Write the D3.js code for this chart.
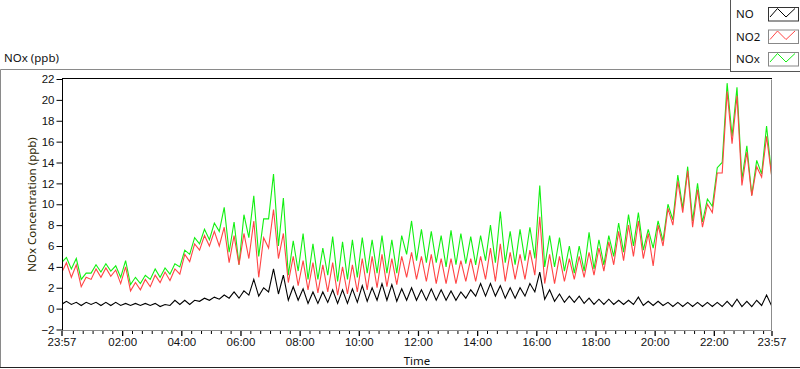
<!DOCTYPE html>
<html>
<head>
<meta charset="utf-8">
<script src="https://cdn.jsdelivr.net/npm/d3@7"></script>
<style>
  body { margin: 0; background: #fff; }
  svg { display: block; font-family: "Segoe UI", "Noto Sans", sans-serif; }
</style>
</head>
<body>
<svg id="chart" width="800" height="369"></svg>
<script>
// readings in 20-minute slots from 23:57, low value then high value in each slot
const startTime = "2014-03-10 23:57";
const endTime = "2014-03-11 23:57";
const slotMinutes = 20;

const noxLow = [4.4,3.8,2.8,3.4,3.5,3.6,3.0,2.3,2.4,2.8,3.0,3.3,4.0,5.2,6.2,6.6,7.4,5.4,4.2,6.8,
  5.0,8.6,6.0,3.2,3.6,2.8,2.8,3.2,2.6,2.8,3.0,3.4,3.4,3.4,3.4,5.2,4.6,4.4,4.4,4.0,
  4.2,4.3,4.2,4.6,4.4,4.4,4.2,4.6,4.8,4.0,4.0,3.6,3.4,3.6,3.8,4.2,5.0,5.4,6.0,5.6,
  5.8,6.5,8.5,9.6,8.4,8.3,9.8,14.0,16.5,12.4,10.9,12.9,12.9];
const noxHigh = [4.9,4.8,3.4,4.2,4.3,4.1,4.6,3.0,3.2,3.8,3.9,4.3,5.6,6.8,7.6,8.2,9.7,8.3,9.0,10.8,
  8.6,12.9,10.6,6.5,7.2,6.2,5.8,6.9,6.4,6.6,6.8,6.6,7.0,6.6,7.0,8.4,7.6,7.4,7.0,7.5,
  7.2,6.9,7.0,8.0,9.3,7.4,7.6,7.8,11.8,7.0,6.8,6.0,6.0,7.3,6.6,7.0,8.2,9.0,9.2,7.6,
  8.4,10.0,12.8,13.6,12.0,10.5,13.5,21.6,21.2,15.6,14.2,17.5];

const no2Low = [3.4,3.0,2.1,2.8,3.0,3.1,2.4,1.7,1.8,2.1,2.5,2.7,3.3,4.5,5.6,6.0,6.0,4.4,4.2,4.8,
  3.0,5.8,4.8,2.5,2.2,1.8,1.5,1.6,1.3,1.4,1.6,1.8,2.0,2.1,2.3,3.0,2.8,2.6,2.4,2.4,
  2.4,2.6,2.6,2.8,2.6,2.6,2.8,2.8,3.2,2.4,2.4,2.6,2.8,3.0,3.2,3.6,4.2,4.6,5.0,4.8,
  4.1,6.0,8.0,9.2,7.8,7.8,9.2,13.0,15.8,11.8,10.8,12.6,12.8];
const no2High = [4.4,4.2,3.0,3.8,3.9,3.7,4.0,2.5,2.8,3.2,3.5,3.8,5.2,6.2,7.0,7.4,7.8,7.0,7.2,8.4,
  6.8,9.5,7.2,5.0,4.6,4.4,4.2,4.4,4.0,4.2,4.8,5.0,5.2,4.8,5.0,5.4,5.0,5.2,4.8,4.8,
  4.6,4.8,5.0,5.8,6.2,5.4,5.2,5.6,8.8,5.2,5.0,4.8,5.0,5.4,5.8,6.4,7.4,8.0,8.4,7.2,
  8.0,9.6,12.2,13.2,11.4,10.0,13.0,20.8,20.4,15.0,13.6,16.5];

const noLow = [0.4,0.4,0.3,0.4,0.3,0.3,0.3,0.3,0.3,0.3,0.2,0.3,0.4,0.4,0.7,0.8,0.9,1.0,1.0,1.3,
  1.2,1.6,1.4,0.8,0.8,0.5,0.5,0.6,0.5,0.5,0.6,0.7,0.8,0.8,0.7,0.8,0.8,0.8,0.8,0.8,
  0.8,1.0,1.2,1.2,1.2,1.0,1.0,1.2,1.6,0.9,0.7,0.6,0.6,0.5,0.4,0.4,0.4,0.4,0.4,0.3,
  0.3,0.3,0.2,0.2,0.2,0.2,0.2,0.2,0.2,0.2,0.2,0.3,0.3];
const noHigh = [0.7,0.6,0.6,0.6,0.6,0.6,0.5,0.5,0.5,0.5,0.4,0.8,0.8,0.8,1.0,1.1,1.3,1.6,1.7,2.8,
  2.0,3.8,3.2,2.1,1.9,1.6,1.6,1.8,1.8,1.9,2.2,2.0,2.4,2.3,1.9,2.0,1.8,1.9,1.8,1.7,
  1.6,1.8,2.4,2.4,2.2,2.0,2.0,2.4,3.5,1.8,1.4,1.2,1.2,1.0,0.9,0.9,0.8,0.8,1.1,0.7,
  0.7,0.6,0.6,0.6,0.6,0.6,0.6,0.7,0.9,0.7,0.8,1.3];

const seriesNames = ["NO", "NO2", "NOx"];
const seriesColors = ["#000000", "#ff4545", "#12f012"];
const yTickValues = [-2, 0, 2, 4, 6, 8, 10, 12, 14, 16, 18, 20, 22];
const majorTickLabels = ["23:57", "02:00", "04:00", "06:00", "08:00", "10:00", "12:00",
  "14:00", "16:00", "18:00", "20:00", "22:00", "23:57"];

const svg = d3.select("#chart");
const plot = {left: 62, right: 772, top: 79, bottom: 330};
const parse = d3.timeParse("%Y-%m-%d %H:%M");
const start = parse(startTime);
const end = parse(endTime);

const x = d3.scaleTime().domain([start, end]).range([plot.left - 0.5, plot.right - 0.5]);
const y = d3.scaleLinear().domain([-2, 22]).range([plot.bottom - 0.5, plot.top]);

// outer panel
svg.append("path").attr("d", `M0.5,368 V69.5 H731`).attr("fill", "none").attr("stroke", "#8a8a8a");
svg.append("line").attr("x1", 0).attr("x2", 800).attr("y1", 367.5).attr("y2", 367.5).attr("stroke", "#222");

svg.append("text").attr("x", 4).attr("y", 62).attr("font-size", 11.5).attr("fill", "#111").text("NOx (ppb)");

// plot frame
svg.append("path").attr("d", `M${plot.right - 0.5},${plot.top + 0.5} V${plot.bottom + 0.5} H${plot.left}`)
  .attr("fill", "none").attr("stroke", "#8c8c8c");
svg.append("line").attr("x1", plot.left).attr("x2", plot.right).attr("y1", plot.top - 0.5).attr("y2", plot.top - 0.5)
  .attr("stroke", "#000");

svg.append("clipPath").attr("id", "clip").append("rect")
  .attr("x", plot.left + 1).attr("y", plot.top).attr("width", plot.right - plot.left - 2).attr("height", plot.bottom - plot.top);

function seriesPoints(low, high) {
  const pts = [];
  low.forEach((lo, k) => {
    pts.push({t: d3.timeMinute.offset(start, k * slotMinutes), v: lo});
    if (k < high.length) pts.push({t: d3.timeMinute.offset(start, k * slotMinutes + slotMinutes / 2), v: high[k]});
  });
  return pts;
}

const line = d3.line().x(d => x(d.t)).y(d => y(d.v));
const traces = [
  {name: "NOx", data: seriesPoints(noxLow, noxHigh), color: seriesColors[2]},
  {name: "NO2", data: seriesPoints(no2Low, no2High), color: seriesColors[1]},
  {name: "NO", data: seriesPoints(noLow, noHigh), color: seriesColors[0]}
];

const g = svg.append("g").attr("clip-path", "url(#clip)");
g.selectAll("path").data(traces).join("path")
  .attr("fill", "none")
  .attr("stroke", d => d.color)
  .attr("stroke-width", 1.1)
  .attr("stroke-linejoin", "miter")
  .attr("d", d => line(d.data));

// y axis
const yAxis = svg.append("g").attr("transform", `translate(${plot.left + 0.5},0)`)
  .call(d3.axisLeft(y).tickValues(yTickValues).tickSizeInner(6).tickSizeOuter(0).tickPadding(2));
yAxis.select(".domain").attr("d", `M0,${plot.top - 0.5}V${plot.bottom}`).attr("stroke", "#000");
yAxis.selectAll("text").attr("font-size", 11.5).attr("fill", "#111").attr("font-family", null);

svg.append("text")
  .attr("transform", `translate(36,${(plot.top + plot.bottom) / 2}) rotate(-90)`)
  .attr("text-anchor", "middle").attr("font-size", 11.5).attr("fill", "#2a2400")
  .text("NOx Concentration (ppb)");

// x axis
const majorTimes = majorTickLabels.map((s, i) =>
  i === 0 ? start : i === majorTickLabels.length - 1 ? end : parse(endTime.slice(0, 10) + " " + s));
const minorTimes = d3.timeMinute.every(20).range(start, end)
  .filter(d => !(d.getMinutes() === 0 && d.getHours() % 2 === 0));

const xMinor = svg.append("g").attr("transform", `translate(0,${plot.bottom + 1})`)
  .call(d3.axisBottom(x).tickValues(minorTimes).tickFormat("").tickSize(3));
xMinor.select(".domain").remove();

const xMajor = svg.append("g").attr("transform", `translate(0,${plot.bottom + 1})`)
  .call(d3.axisBottom(x).tickValues(majorTimes).tickFormat((d, i) => majorTickLabels[i])
    .tickSizeInner(5).tickSizeOuter(0).tickPadding(2));
xMajor.select(".domain").remove();
xMajor.selectAll("text").attr("font-size", 11.5).attr("fill", "#111").attr("font-family", null);
xMajor.selectAll("line").attr("stroke-width", 1.3);

svg.append("text").attr("x", (plot.left + plot.right) / 2).attr("y", 365)
  .attr("text-anchor", "middle").attr("font-size", 11.5).attr("fill", "#111").text("Time");

// legend
const legend = svg.append("g");
legend.append("rect").attr("x", 730.5).attr("y", -1).attr("width", 72).attr("height", 72.5)
  .attr("fill", "#fff").attr("stroke", "#555");
const rows = legend.selectAll("g").data(seriesNames).join("g")
  .attr("transform", (d, i) => `translate(0,${i * 22.5})`);
rows.append("text").attr("x", 736).attr("y", 18).attr("font-size", 11.5).attr("fill", "#111").text(d => d);
rows.append("rect").attr("x", 768.5).attr("y", 7.5).attr("width", 30).attr("height", 13.5)
  .attr("fill", "#fff").attr("stroke", (d, i) => i === 0 ? "#333" : "#888");
rows.append("path")
  .attr("d", "M770,17 L777.5,8.5 L786,17 L795,8.5")
  .attr("fill", "none").attr("stroke", (d, i) => seriesColors[i]).attr("stroke-width", 1);
</script>
</body>
</html>
